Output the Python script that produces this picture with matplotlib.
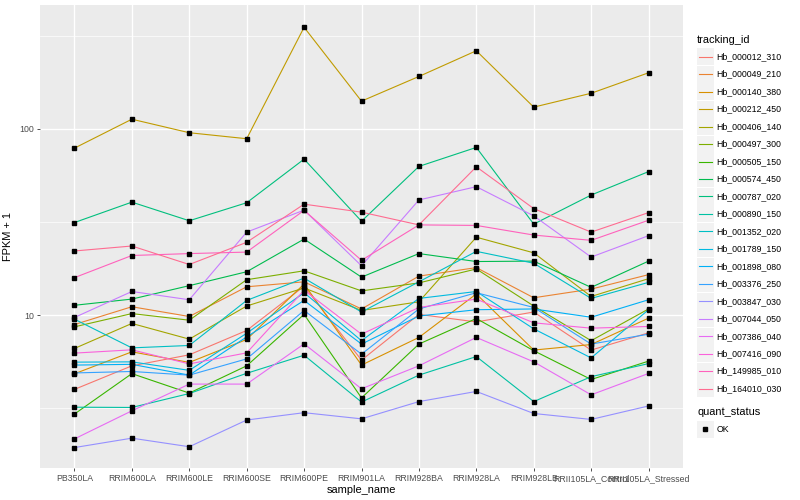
import matplotlib
matplotlib.use('Agg')
import matplotlib.pyplot as plt
from matplotlib.ticker import FixedLocator, NullFormatter
from matplotlib.patches import Rectangle
from matplotlib.lines import Line2D

plt.rcParams['font.family'] = ['Liberation Sans', 'DejaVu Sans']

samples = ['PB350LA', 'RRIM600LA', 'RRIM600LE', 'RRIM600SE', 'RRIM600PE', 'RRIM901LA',
           'RRIM928BA', 'RRIM928LA', 'RRIM928LB', 'RRII105LA_Control', 'RRII105LA_Stressed']

tracking_ids = ['Hb_000012_310', 'Hb_000049_210', 'Hb_000140_380', 'Hb_000212_450',
                'Hb_000406_140', 'Hb_000497_300', 'Hb_000505_150', 'Hb_000574_450',
                'Hb_000787_020', 'Hb_000890_150', 'Hb_001352_020', 'Hb_001789_150',
                'Hb_001898_080', 'Hb_003376_250', 'Hb_003847_030', 'Hb_007044_050',
                'Hb_007386_040', 'Hb_007416_090', 'Hb_149985_010', 'Hb_164010_030']

# ggplot hue palette, 20 levels
colors = ['#F8766D', '#EA8331', '#D89000', '#C09B00', '#A3A500', '#7CAE00', '#39B600',
          '#00BB4E', '#00BF7D', '#00C1A3', '#00BFC4', '#00BAE0', '#00B0F6', '#35A2FF',
          '#9590FF', '#C77CFF', '#E76BF3', '#FA62DB', '#FF62BC', '#FF6C91']

# FPKM + 1 per sample
hb_000012_310 = [4.0, 5.35, 6.13, 8.28, 14.3, 5.74, 10.1, 9.2, 10.4, 6.5, 8.04]
hb_000049_210 = [8.91, 11.1, 9.84, 14.2, 15.1, 10.8, 16.2, 18.0, 12.4, 13.8, 16.5]
hb_000140_380 = [4.85, 6.36, 5.58, 7.41, 14.7, 5.4, 7.6, 13.0, 6.5, 6.96, 9.64]
hb_000212_450 = [78.7, 112.5, 95.2, 88.4, 350, 140.6, 190.7, 262, 130.6, 155, 199.6]
hb_000406_140 = [6.63, 9.03, 7.44, 11.2, 14.0, 10.6, 11.8, 26.2, 21.6, 12.6, 15.7]
hb_000497_300 = [8.66, 10.2, 9.4, 15.5, 17.3, 13.5, 14.9, 17.7, 11.2, 7.3, 10.8]
hb_000505_150 = [2.95, 4.86, 3.82, 5.35, 10.1, 3.6, 7.0, 9.6, 6.45, 4.52, 5.67]
hb_000574_450 = [11.3, 12.2, 14.4, 17.1, 25.6, 16.0, 21.4, 19.4, 19.5, 14.1, 19.5]
hb_000787_020 = [31.4, 40.4, 32.1, 40.1, 68.7, 31.9, 62.8, 79.4, 30.8, 44.1, 58.9]
hb_000890_150 = [3.21, 3.2, 3.8, 4.88, 6.1, 3.42, 4.77, 6.0, 3.44, 4.68, 5.5]
hb_001352_020 = [9.52, 6.68, 6.88, 12.0, 15.8, 10.4, 15.1, 22.0, 19.0, 12.3, 15.0]
hb_001789_150 = [5.6, 5.62, 5.06, 8.0, 13.2, 7.3, 12.3, 13.4, 8.45, 5.9, 10.7]
hb_001898_080 = [5.4, 5.45, 4.77, 7.65, 12.0, 7.0, 9.9, 10.7, 10.8, 9.75, 12.1]
hb_003376_250 = [4.9, 4.99, 4.77, 5.83, 10.6, 6.18, 10.8, 13.2, 11.0, 7.0, 7.91]
hb_003847_030 = [1.95, 2.19, 1.97, 2.74, 3.0, 2.78, 3.44, 3.9, 2.97, 2.76, 3.26]
hb_007044_050 = [9.72, 13.4, 12.1, 27.9, 36.6, 18.4, 41.5, 48.9, 34.1, 20.5, 26.7]
hb_007386_040 = [2.17, 3.07, 4.27, 4.27, 7.02, 4.03, 5.35, 7.6, 5.62, 3.74, 4.87]
hb_007416_090 = [6.26, 6.52, 5.48, 6.28, 13.6, 7.91, 11.0, 12.2, 9.1, 8.52, 8.7]
hb_149985_010 = [15.9, 20.9, 21.4, 21.8, 36.5, 19.7, 30.5, 30.3, 26.9, 25.2, 32.3]
hb_164010_030 = [22.1, 23.5, 18.7, 24.6, 39.4, 35.7, 30.5, 62.5, 37.3, 27.9, 35.5]

series = [hb_000012_310, hb_000049_210, hb_000140_380, hb_000212_450, hb_000406_140,
          hb_000497_300, hb_000505_150, hb_000574_450, hb_000787_020, hb_000890_150,
          hb_001352_020, hb_001789_150, hb_001898_080, hb_003376_250, hb_003847_030,
          hb_007044_050, hb_007386_040, hb_007416_090, hb_149985_010, hb_164010_030]

W, H = 800, 500


def fig_xy(x, y):
    # pixel coords (top-left origin) -> figure fraction
    return x / W, 1 - y / H


fig = plt.figure(figsize=(8, 5), dpi=100)
ax = fig.add_axes([40 / W, 32 / H, 643 / W, 463 / H])
ax.set_facecolor('#EBEBEB')
for s in ax.spines.values():
    s.set_visible(False)

xs = list(range(len(samples)))
for vals, c in zip(series, colors):
    ax.plot(xs, vals, color=c, lw=0.8, zorder=2)
for vals in series:
    ax.plot(xs, vals, 's', color='black', ms=2.3, zorder=3)

ax.set_yscale('log')
ax.set_ylim(1.515, 461)
ax.set_xlim(-0.6, 10.6)
ax.yaxis.set_major_locator(FixedLocator([10, 100]))
ax.yaxis.set_minor_locator(FixedLocator([10 ** 0.5, 10 ** 1.5, 10 ** 2.5]))
ax.yaxis.set_minor_formatter(NullFormatter())
ax.set_yticklabels(['10', '100'])
ax.set_xticks(xs)
ax.set_xticklabels(samples)
ax.tick_params(which='major', length=2.5, width=0.6, color='#333333',
               labelsize=6.3, labelcolor='#4D4D4D', pad=2)
ax.tick_params(which='minor', length=0)
ax.grid(which='major', color='white', lw=1.0)
ax.grid(which='minor', axis='y', color='white', lw=0.5)
ax.set_axisbelow(True)

ax.set_xlabel('sample_name', fontsize=7.9, labelpad=1)
ax.set_ylabel('FPKM + 1', fontsize=7.9, labelpad=4)

# legend: tracking_id
fig.text(*fig_xy(697, 40), 'tracking_id', fontsize=7.9, va='center', ha='left')
for i, (name, c) in enumerate(zip(tracking_ids, colors)):
    yc = 56.7 + i * 17.47
    x0, y0 = fig_xy(697, yc + 8.5)
    fig.patches.append(Rectangle((x0, y0), 16.5 / W, 17 / H, transform=fig.transFigure,
                                 facecolor='#F2F2F2', edgecolor='none'))
    lx0, ly = fig_xy(699, yc)
    lx1, _ = fig_xy(712, yc)
    fig.lines.append(Line2D([lx0, lx1], [ly, ly], transform=fig.transFigure, color=c, lw=0.8))
    fig.text(*fig_xy(716.5, yc), name, fontsize=6.3, va='center', ha='left')

# legend: quant_status
fig.text(*fig_xy(697, 412), 'quant_status', fontsize=7.9, va='center', ha='left')
x0, y0 = fig_xy(697, 429 + 8.5)
fig.patches.append(Rectangle((x0, y0), 16.5 / W, 17 / H, transform=fig.transFigure,
                             facecolor='#F2F2F2', edgecolor='none'))
fig.lines.append(Line2D([fig_xy(705, 429)[0]], [fig_xy(705, 429)[1]], transform=fig.transFigure,
                        marker='s', color='black', ms=2.3, lw=0))
fig.text(*fig_xy(716.5, 429), 'OK', fontsize=6.3, va='center', ha='left')

fig.savefig('out.png', dpi=100, facecolor='white')
